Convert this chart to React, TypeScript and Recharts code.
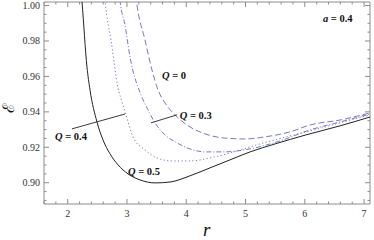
import React from "react";
import { LineChart, Line, XAxis, YAxis, ReferenceLine, ReferenceDot } from "recharts";

// E(r) curves for a = 0.4
const rQ0 = [3.085, 3.169, 3.304, 3.422, 3.523, 3.642, 3.81, 4.063, 4.316, 4.62, 4.991, 5.329, 5.75, 6.088, 6.594, 7.1];
const eQ0 = [1.0257, 1.0003, 0.9806, 0.9636, 0.9524, 0.945, 0.9383, 0.9315, 0.9276, 0.9253, 0.9247, 0.9259, 0.9287, 0.9326, 0.9354, 0.9394];

const rQ03 = [2.832, 2.882, 2.967, 3.051, 3.237, 3.355, 3.473, 3.642, 3.844, 4.063, 4.316, 4.62, 5.076, 5.582, 6.088, 6.594, 7.1];
const eQ03 = [1.0257, 1.0031, 0.989, 0.971, 0.9495, 0.9411, 0.9338, 0.927, 0.9225, 0.9191, 0.9174, 0.9174, 0.9191, 0.9236, 0.9298, 0.9343, 0.9388];

const rQ04 = [2.579, 2.629, 2.73, 2.849, 2.916, 2.983, 3.102, 3.304, 3.507, 3.76, 4.063, 4.401, 4.738, 5.244, 5.75, 6.088, 6.594, 7.1];
const eQ04 = [1.0257, 1.0031, 0.9806, 0.9535, 0.9456, 0.9383, 0.9259, 0.9185, 0.914, 0.9123, 0.9123, 0.914, 0.9168, 0.9219, 0.9264, 0.9292, 0.9338, 0.9383];

const rQ05 = [2.174, 2.241, 2.325, 2.376, 2.494, 2.595, 2.714, 2.849, 3.017, 3.22, 3.473, 3.726, 4.063, 4.401, 4.738, 5.076, 5.497, 6.02, 6.594, 7.1];
const eQ05 = [1.0257, 1.002, 0.9653, 0.9524, 0.9343, 0.9242, 0.9163, 0.9101, 0.905, 0.9016, 0.8999, 0.9004, 0.9039, 0.9084, 0.9129, 0.9174, 0.9219, 0.927, 0.9321, 0.9371];

const xTicks = [1.6, 1.8, 2, 2.2, 2.4, 2.6, 2.8, 3, 3.2, 3.4, 3.6, 3.8, 4, 4.2, 4.4, 4.6, 4.8, 5, 5.2, 5.4, 5.6, 5.8, 6, 6.2, 6.4, 6.6, 6.8, 7];
const yTicks = [0.89, 0.895, 0.9, 0.905, 0.91, 0.915, 0.92, 0.925, 0.93, 0.935, 0.94, 0.945, 0.95, 0.955, 0.96, 0.965, 0.97, 0.975, 0.98, 0.985, 0.99, 0.995, 1.0];

const xDomain = [1.6, 7.1];
const yDomain = [0.888, 1.002];

const toPoints = (rs: number[], es: number[]) => rs.map((r, i) => ({ r, e: es[i] }));

const blue = "#7878c8";
const frame = "#8c8c8c";
const tickColor = "#8c8c8c";
const serif = "'Liberation Serif', 'Times New Roman', serif";

const xMajor = (v: number) => Math.abs(v - Math.round(v)) < 1e-6;
const yMajor = (v: number) => Math.abs(v * 50 - Math.round(v * 50)) < 1e-6;

// tick lengths in data units (plot is 326 x 202 px)
const xTickLen = (v: number) => ((xMajor(v) ? 5 : 2.5) * (yDomain[1] - yDomain[0])) / 202;
const yTickLen = (v: number) => ((yMajor(v) ? 5 : 2.5) * (xDomain[1] - xDomain[0])) / 326;

const bottomTick = (props: any) => {
  const v = Number(props.payload.value);
  if (!xMajor(v)) return <g />;
  return (
    <text x={props.x} y={props.y + 13} textAnchor="middle" fontSize={10} fontFamily={serif} fill="#333">
      {v}
    </text>
  );
};

const leftTick = (props: any) => {
  const v = Number(props.payload.value);
  if (!yMajor(v)) return <g />;
  return (
    <text x={props.x - 4} y={props.y + 3.5} textAnchor="end" fontSize={10} fontFamily={serif} fill="#333">
      {v.toFixed(2)}
    </text>
  );
};

const labelText = (name: string, val: string) => (p: any) => (
  <text x={p.cx} y={p.cy} fontSize={10.5} fontFamily={serif} fontWeight="bold" fill="#111">
    <tspan fontStyle="italic">{name}</tspan>
    <tspan>{" = " + val}</tspan>
  </text>
);

export default function App() {
  return (
    <div style={{ position: "absolute", left: 0, top: 0, width: 374, height: 240, background: "#fff" }}>
      <LineChart width={374} height={240} margin={{ top: 2, right: 4, left: 0, bottom: 0 }}>
        <XAxis
          dataKey="r"
          type="number"
          domain={xDomain}
          ticks={xTicks}
          interval={0}
          height={36}
          tickSize={0}
          tickMargin={0}
          tickLine={false}
          axisLine={{ stroke: frame }}
          tick={bottomTick}
          allowDataOverflow
        />
        <YAxis
          type="number"
          domain={yDomain}
          ticks={yTicks}
          interval={0}
          width={44}
          tickSize={0}
          tickMargin={0}
          tickLine={false}
          axisLine={{ stroke: frame }}
          tick={leftTick}
          allowDataOverflow
        />
        <ReferenceLine y={yDomain[1]} stroke={frame} />
        <ReferenceLine x={xDomain[1]} stroke={frame} />
        {xTicks.map((v) => (
          <ReferenceLine key={"b" + v} segment={[{ x: v, y: yDomain[0] }, { x: v, y: yDomain[0] + xTickLen(v) }]} stroke={tickColor} ifOverflow="visible" />
        ))}
        {xTicks.map((v) => (
          <ReferenceLine key={"t" + v} segment={[{ x: v, y: yDomain[1] }, { x: v, y: yDomain[1] - xTickLen(v) }]} stroke={tickColor} ifOverflow="visible" />
        ))}
        {yTicks.map((v) => (
          <ReferenceLine key={"l" + v} segment={[{ x: xDomain[0], y: v }, { x: xDomain[0] + yTickLen(v), y: v }]} stroke={tickColor} ifOverflow="visible" />
        ))}
        {yTicks.map((v) => (
          <ReferenceLine key={"r" + v} segment={[{ x: xDomain[1], y: v }, { x: xDomain[1] - yTickLen(v), y: v }]} stroke={tickColor} ifOverflow="visible" />
        ))}
        <Line data={toPoints(rQ0, eQ0)} dataKey="e" type="monotone" stroke={blue} strokeWidth={1} strokeDasharray="6 3" dot={false} isAnimationActive={false} />
        <Line data={toPoints(rQ03, eQ03)} dataKey="e" type="monotone" stroke={blue} strokeWidth={1} strokeDasharray="5 2 1 2" dot={false} isAnimationActive={false} />
        <Line data={toPoints(rQ04, eQ04)} dataKey="e" type="monotone" stroke={blue} strokeWidth={1} strokeDasharray="1.2 2.4" dot={false} isAnimationActive={false} />
        <Line data={toPoints(rQ05, eQ05)} dataKey="e" type="monotone" stroke="#222" strokeWidth={1} dot={false} isAnimationActive={false} />
        <ReferenceLine segment={[{ x: 2.072, y: 0.9304 }, { x: 2.967, y: 0.9388 }]} stroke="#222" strokeWidth={0.9} />
        <ReferenceLine segment={[{ x: 3.405, y: 0.9338 }, { x: 3.844, y: 0.9383 }]} stroke="#222" strokeWidth={0.9} />
        <ReferenceDot x={3.59} y={0.9586} r={0} shape={labelText("Q", "0")} />
        <ReferenceDot x={3.89} y={0.936} r={0} shape={labelText("Q", "0.3")} />
        <ReferenceDot x={1.786} y={0.924} r={0} shape={labelText("Q", "0.4")} />
        <ReferenceDot x={3.017} y={0.9044} r={0} shape={labelText("Q", "0.5")} />
        <ReferenceDot x={6.307} y={0.9907} r={0} shape={labelText("a", "0.4")} />
      </LineChart>
      <svg width={374} height={240} style={{ position: "absolute", left: 0, top: 0, pointerEvents: "none" }}>
        <text x={203} y={236} fontFamily={serif} fontStyle="italic" fontSize={19} fill="#111">
          r
        </text>
        <text x={14} y={108} transform="rotate(-90 14 108)" textAnchor="middle" fontFamily="'DejaVu Serif', serif" fontSize={16} fill="#111">
          ℰ
        </text>
      </svg>
    </div>
  );
}
